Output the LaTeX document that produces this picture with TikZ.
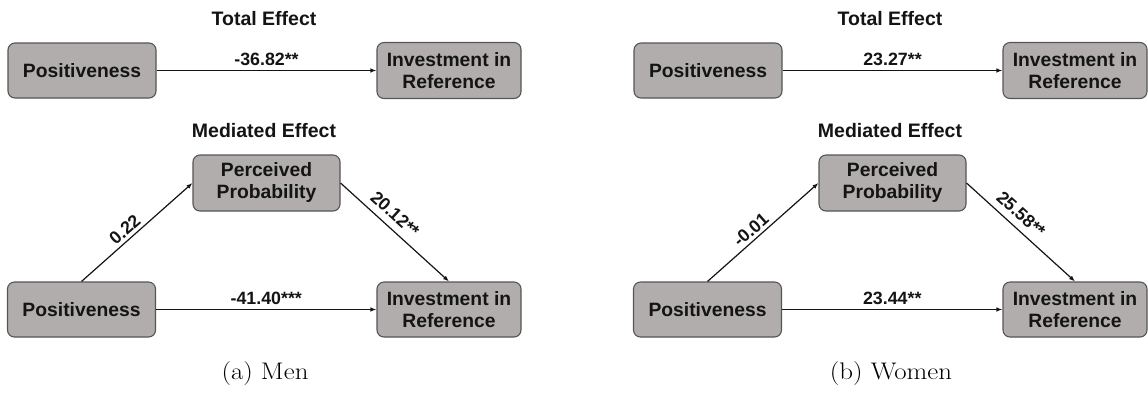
\documentclass[tikz,border=0pt]{standalone}
\usepackage{fontspec}
\newfontfamily\diagsans{Liberation Sans}
\usetikzlibrary{arrows.meta}

\definecolor{boxfill}{RGB}{177,173,173}
\definecolor{boxline}{RGB}{85,85,85}
\definecolor{ink}{RGB}{20,20,20}

\tikzset{
  varbox/.style={draw=boxline, line width=1.1pt, fill=boxfill, rounded corners=7pt,
    inner sep=0pt, align=center, text=ink,
    font=\diagsans\bfseries\fontsize{19.3}{22}\selectfont},
  effect/.style={draw=ink, line width=1.2pt, -{Latex[length=6pt,width=4.5pt]}},
  coef/.style={font=\diagsans\bfseries\fontsize{17.8}{20}\selectfont, text=ink, inner sep=4.5pt},
  paneltitle/.style={font=\diagsans\bfseries\fontsize{19.5}{22}\selectfont, text=ink,
    anchor=base, inner sep=0pt},
  subcap/.style={font=\fontsize{24}{28}\selectfont, anchor=base, inner sep=0pt, xscale=1.12}
}

% One mediation panel: total effect on top, mediated model below.
% #1 name prefix, #2 horizontal shift, #3 total effect, #4 a path,
% #5 b path, #6 direct effect, #7 sub-caption
\newcommand\mediationpanel[7]{%
  \begin{scope}[xshift=#2, name prefix=#1-]
    \node[paneltitle] (ttl1) at (264,25) {Total Effect};
    \node[varbox, minimum width=148pt, minimum height=55pt] (x1) at (82,70.5) {Positiveness};
    \node[varbox, minimum width=144pt, minimum height=56pt] (y1) at (449,70.5) {Investment in\\Reference};
    \draw[effect] (x1) -- node[coef, midway, above] (c1) {#3} (y1);

    \node[paneltitle] (ttl2) at (264,137) {Mediated Effect};
    \node[varbox, minimum width=147pt, minimum height=56pt] (m) at (266.5,183) {Perceived\\Probability};
    \node[varbox, minimum width=148pt, minimum height=55pt] (x2) at (81.5,309.5) {Positiveness};
    \node[varbox, minimum width=144pt, minimum height=55pt] (y2) at (449,309.5) {Investment in\\Reference};
    \draw[effect] (x2.north) -- node[coef, pos=0.45, sloped, above, inner sep=3pt] (ca) {#4} (m.west);
    \draw[effect] (m.east) -- node[coef, pos=0.42, sloped, above, inner sep=6.5pt] (cb) {#5} (y2.north);
    \draw[effect] (x2) -- node[coef, midway, above] (cc) {#6} (y2);

    \node[subcap] (cap) at (265,379) {#7};
  \end{scope}%
}

\begin{document}
\begin{tikzpicture}[x=1pt, y=-1pt]
  \useasboundingbox (0,0) rectangle (1148,392);
  \mediationpanel{men}{0pt}{-36.82**}{0.22}{20.12**}{-41.40***}{(a) Men}
  \mediationpanel{women}{626pt}{23.27**}{-0.01}{25.58**}{23.44**}{(b) Women}
\end{tikzpicture}
\end{document}
